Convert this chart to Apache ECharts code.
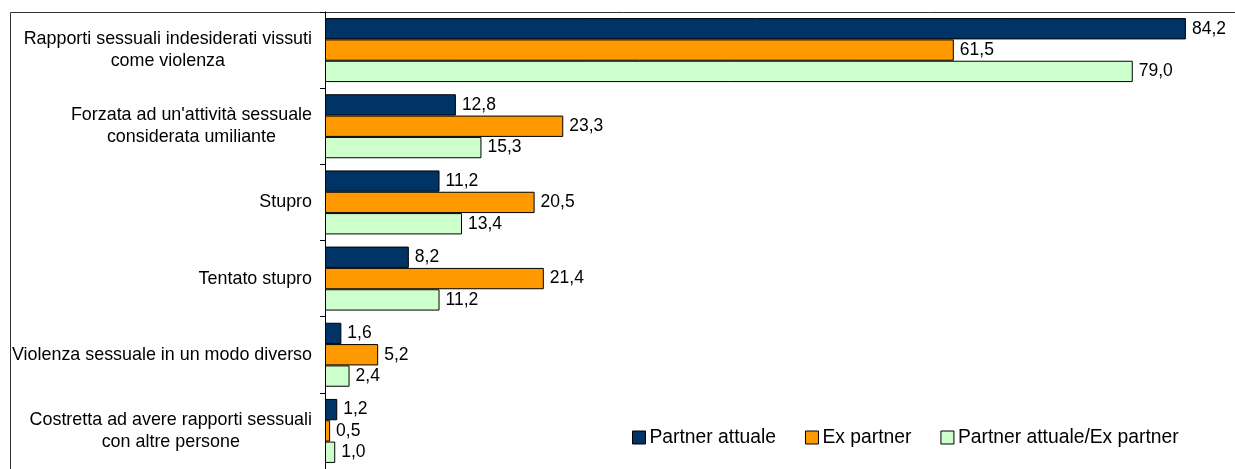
<!DOCTYPE html>
<html>
<head>
<meta charset="utf-8">
<script src="https://cdn.jsdelivr.net/npm/echarts@6/dist/echarts.min.js"></script>
<style>
html,body{margin:0;padding:0;background:#fff;}
#chart{width:1235px;height:469px;}
</style>
</head>
<body>
<div id="chart"></div>
<script>
const categories = [
  "Rapporti sessuali indesiderati vissuti\ncome violenza",
  "Forzata ad un'attività sessuale\nconsiderata umiliante",
  "Stupro",
  "Tentato stupro",
  "Violenza sessuale in un modo diverso",
  "Costretta ad avere rapporti sessuali\ncon altre persone"
];
const seriesNames = ["Partner attuale", "Ex partner", "Partner attuale/Ex partner"];
const partnerAttuale = [84.2, 12.8, 11.2, 8.2, 1.6, 1.2];
const exPartner = [61.5, 23.3, 20.5, 21.4, 5.2, 0.5];
const entrambi = [79.0, 15.3, 13.4, 11.2, 2.4, 1.0];
const colors = ["#003366", "#FF9900", "#CCFFCC"];

const FONT = "'Liberation Sans', Arial, sans-serif";
const fmt = v => v.toFixed(1).replace('.', ',');

const chart = echarts.init(document.getElementById('chart'));

function mkSeries(name, data, color) {
  return {
    name: name,
    type: 'bar',
    data: data,
    barGap: '0%',
    barCategoryGap: '16%',
    itemStyle: { color: color, borderColor: '#000', borderWidth: 1 },
    label: {
      show: true,
      position: 'right',
      distance: 6,
      color: '#000',
      fontFamily: FONT,
      fontSize: 17.5,
      formatter: p => fmt(p.value)
    },
    emphasis: { disabled: true },
    animation: false
  };
}

chart.setOption({
  backgroundColor: '#fff',
  animation: false,
  graphic: [{
    type: 'rect',
    shape: { x: 10.5, y: 12.5, width: 1300, height: 600 },
    style: { fill: 'none', stroke: '#333', lineWidth: 1 },
    silent: true,
    z: 0
  }],
  grid: { left: 325, right: -1, top: 12, bottom: 0, containLabel: false },
  xAxis: {
    type: 'value',
    min: 0,
    max: 89,
    show: false,
    splitLine: { show: false }
  },
  yAxis: {
    type: 'category',
    data: categories,
    inverse: true,
    axisLine: { show: true, lineStyle: { color: '#000', width: 1 } },
    axisTick: { show: true, length: 5, lineStyle: { color: '#000' } },
    axisLabel: {
      margin: 13,
      color: '#000',
      fontFamily: FONT,
      fontSize: 17.9,
      lineHeight: 22,
      formatter: v => v.split('\n').map(l => '{c|' + l + '}').join('\n'),
      rich: {
        c: { align: 'center', fontFamily: FONT, fontSize: 17.9, lineHeight: 22, color: '#000' }
      }
    }
  },
  legend: {
    left: 632,
    top: 428,
    padding: 0,
    itemWidth: 13,
    itemHeight: 13,
    itemGap: 29,
    icon: 'rect',
    textStyle: { fontFamily: FONT, fontSize: 19.3, color: '#000', padding: [0, 0, 0, -1] },
    itemStyle: { borderColor: '#000', borderWidth: 1 },
    data: seriesNames
  },
  series: [
    mkSeries(seriesNames[0], partnerAttuale, colors[0]),
    mkSeries(seriesNames[1], exPartner, colors[1]),
    mkSeries(seriesNames[2], entrambi, colors[2])
  ]
});
</script>
</body>
</html>
